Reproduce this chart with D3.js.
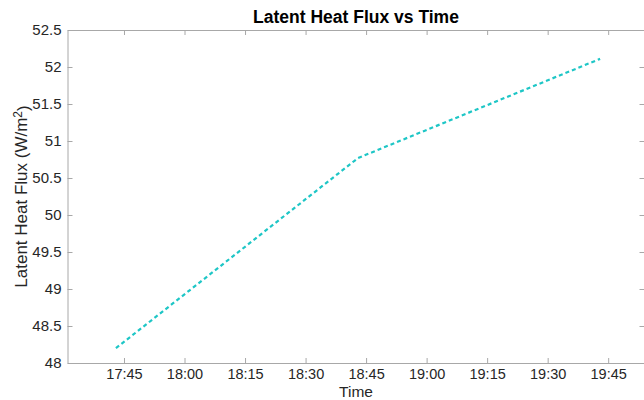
<!DOCTYPE html>
<html>
<head>
<meta charset="utf-8">
<script src="https://cdn.jsdelivr.net/npm/d3@7"></script>
<style>
  body { margin: 0; background: #fff; }
  svg { display: block; font-family: "Liberation Sans", Arial, Helvetica, sans-serif; }
</style>
</head>
<body>
<div class="chart"></div>
<script>
// data
var times = ["17:43", "18:43", "19:43"];
var flux = [48.2, 50.77, 52.11];
var xTickLabels = ["17:45", "18:00", "18:15", "18:30", "18:45", "19:00", "19:15", "19:30", "19:45"];
var yTickValues = [48, 48.5, 49, 49.5, 50, 50.5, 51, 51.5, 52, 52.5];

var parseT = d3.timeParse("%H:%M");
var fmtT = d3.timeFormat("%H:%M");

var svgW = 644, svgH = 400;
var margin = { top: 30, right: 0, bottom: 37, left: 67.5 };
var w = 577;
var h = svgH - margin.top - margin.bottom;

var svg = d3.select(".chart").append("svg")
    .attr("width", svgW)
    .attr("height", svgH);

var chrt = svg.append("g")
    .attr("transform", "translate(" + margin.left + "," + margin.top + ")");

var xS = d3.scaleTime()
    .domain([parseT("17:31"), parseT("19:54")])
    .range([0, w]);
var yS = d3.scaleLinear()
    .domain([48, 52.5])
    .range([h, 0]);

var xTicks = xTickLabels.map(parseT);
var axisCol = "#a8a8a8";
var textCol = "#262626";

var bAxis = d3.axisBottom(xS).tickValues(xTicks).tickFormat(fmtT).tickSizeInner(-5).tickSizeOuter(0).tickPadding(6);
var lAxis = d3.axisLeft(yS).tickValues(yTickValues).tickFormat(d3.format("")).tickSizeInner(-5).tickSizeOuter(0).tickPadding(6);
var tAxis = d3.axisTop(xS).tickValues(xTicks).tickFormat("").tickSizeInner(-5).tickSizeOuter(0);
var rAxis = d3.axisRight(yS).tickValues(yTickValues).tickFormat("").tickSizeInner(-5).tickSizeOuter(0);

chrt.append("g").attr("class", "x-axis").attr("transform", "translate(0," + h + ")").call(bAxis);
chrt.append("g").attr("class", "y-axis").call(lAxis);
chrt.append("g").attr("class", "t-axis").call(tAxis);
chrt.append("g").attr("class", "r-axis").attr("transform", "translate(" + w + ",0)").call(rAxis);

chrt.selectAll(".domain").attr("stroke", axisCol);
chrt.selectAll(".tick line").attr("stroke", axisCol);
chrt.selectAll(".tick text").attr("fill", textCol).style("font-size", "15px");
chrt.selectAll(".x-axis .tick text").style("font-size", "14.5px");

var line = d3.line()
    .x(function(d, i) { return xS(parseT(times[i])); })
    .y(function(d) { return yS(d); });

chrt.append("path")
    .datum(flux)
    .attr("d", line)
    .attr("fill", "none")
    .attr("stroke", "#1ec6c6")
    .attr("stroke-width", 2.2)
    .attr("stroke-dasharray", "4,3");

svg.append("text")
    .attr("x", margin.left + w / 2)
    .attr("y", 23)
    .attr("text-anchor", "middle")
    .style("font-size", "17.5px")
    .style("font-weight", "bold")
    .attr("fill", "#000")
    .text("Latent Heat Flux vs Time");

svg.append("text")
    .attr("x", margin.left + w / 2)
    .attr("y", 396.5)
    .attr("text-anchor", "middle")
    .style("font-size", "15.5px")
    .attr("fill", textCol)
    .text("Time");

var yl = svg.append("text")
    .attr("transform", "translate(27," + (margin.top + h / 2) + ") rotate(-90)")
    .attr("text-anchor", "middle")
    .style("font-size", "17px")
    .attr("fill", textCol);
yl.append("tspan").text("Latent Heat Flux (W/m");
yl.append("tspan").attr("dy", "-0.45em").style("font-size", "12px").text("2");
yl.append("tspan").attr("dy", "0.45em").text(")");
</script>
</body>
</html>
